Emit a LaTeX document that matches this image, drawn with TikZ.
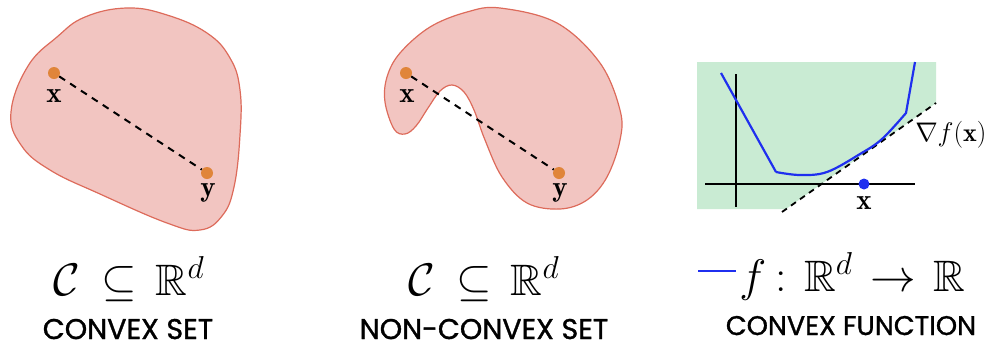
\documentclass[tikz,border=0pt]{standalone}
\usepackage{amsmath,amssymb}
\usepackage{fontspec}
\newfontfamily\capfont{Poppins}[FakeBold=1.2]
\definecolor{setfill}{HTML}{F2C5C1}
\definecolor{setline}{HTML}{DD6B5B}
\definecolor{dotc}{HTML}{E0853A}
\definecolor{greenfill}{HTML}{C9EBD3}
\definecolor{curveblue}{HTML}{1F2FEF}
\tikzset{
  setshape/.style={fill=setfill, draw=setline, line width=1.2pt},
  pdot/.style={circle, fill=dotc, inner sep=0pt, minimum size=12pt},
  bdot/.style={circle, fill=curveblue, inner sep=0pt, minimum size=11pt},
  seg/.style={dashed, dash pattern=on 7pt off 6pt, line width=2pt, black},
  ptlabel/.style={font=\fontsize{20}{24}\selectfont, scale=1.45, inner sep=0pt},
  bigmath/.style={font=\fontsize{20}{24}\selectfont, scale=2.2, inner sep=0pt, anchor=base},
  fmath/.style={font=\fontsize{20}{24}\selectfont, scale=2.2, inner sep=0pt, anchor=base west},
  caption/.style={font=\capfont\fontsize{28.5}{32}\selectfont, inner sep=0pt, anchor=base, text depth=0pt},
  axis/.style={line width=1.4pt, black},
}
\begin{document}
\begin{tikzpicture}[x=1pt,y=-1pt]
\useasboundingbox (0,0) rectangle (995,349);
% convex set
\draw[setshape] plot[smooth cycle, tension=0.7] coordinates {
 (11,112) (28,66) (57,37) (85,17) (127,8) (167,15) (207,33) (230,58)
 (240,90) (240,135) (234,187) (222,216) (200,230) (167,223) (100,194)
 (50,170) (21,145)};
\node[pdot] (x1) at (54,73) {};
\node[pdot] (y1) at (207,173) {};
\draw[seg] (x1) -- (y1);
\node[ptlabel] (lx1) at (54,96) {$\mathbf{x}$};
\node[ptlabel] (ly1) at (208,193) {$\mathbf{y}$};
% non-convex set
\draw[setshape] plot[smooth cycle, tension=0.6] coordinates {
 (500,8) (557,23) (600,63) (620,110) (620,140) (607,177) (587,200)
 (560,209) (527,203) (502,177) (485,140) (474,110) (464,92) (452,85)
 (440,91) (428,108) (416,126) (405,134) (394,129) (385,102) (387,77)
 (400,53) (430,27) (467,12)};
\node[pdot] (x2) at (406,73) {};
\node[pdot] (y2) at (559,173) {};
\draw[seg] (x2) -- (y2);
\node[ptlabel] (lx2) at (407,96) {$\mathbf{x}$};
\node[ptlabel] (ly2) at (560,193) {$\mathbf{y}$};
% convex function
\fill[greenfill] (697,62) -- (936,62) -- (936,103) -- (786,209) -- (697,209) -- cycle;
\coordinate (hx0) at (705,184);
\coordinate (hx1) at (915,184);
\coordinate (vy0) at (736,74);
\coordinate (vy1) at (736,207);
\draw[axis] (hx0) -- (hx1);
\draw[axis] (vy0) -- (vy1);
\coordinate (t0) at (782,212);
\coordinate (t1) at (936,103);
\draw[seg, line width=1.8pt, dash pattern=on 6pt off 5pt] (t0) -- (t1);
\draw[curveblue, line width=2.2pt, line join=round]
  (721,73) -- (776,172) plot[smooth, tension=0.6] coordinates {(776,172) (800,175) (827,172) (860,154) (882,139) (906,113)}
  -- (915,62);
\node[bdot] (px) at (864,184) {};
\node[ptlabel] (lpx) at (864,203) {$\mathbf{x}$};
\node[font=\fontsize{20}{24}\selectfont, scale=1.3, inner sep=0pt, anchor=west] (grad) at (915,135) {$\nabla f(\mathbf{x})$};
% formulas
\node[bigmath] (m1) at (129,295) {$\mathcal{C}\hspace{4pt}\subseteq\hspace{3pt}\mathbb{R}^d$};
\node[bigmath] (m2) at (484,295) {$\mathcal{C}\hspace{4pt}\subseteq\hspace{3pt}\mathbb{R}^d$};
\coordinate (bl0) at (698,271);
\coordinate (bl1) at (736,271);
\draw[curveblue, line width=1.8pt] (bl0) -- (bl1);
\node[fmath] (m3) at (739,291) {$f\hspace{4pt}{:}\hspace{8pt}\mathbb{R}^d\hspace{8pt}{\rightarrow}\hspace{8pt}\mathbb{R}$};
% captions
\node[caption] (c1) at (128,339) {CONVEX SET};
\node[caption] (c2) at (484,339) {NON-CONVEX SET};
\node[caption, font=\capfont\fontsize{27}{30}\selectfont] (c3) at (851,335) {CONVEX FUNCTION};
\end{tikzpicture}
\end{document}
